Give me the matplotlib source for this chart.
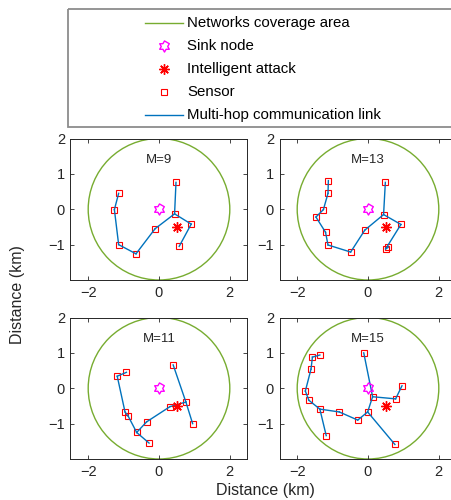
import numpy as np
import matplotlib
matplotlib.use("Agg")
import matplotlib.pyplot as plt
from matplotlib.path import Path
from matplotlib.patches import Circle, Rectangle
from matplotlib.lines import Line2D

plt.rcParams["font.family"] = ["Liberation Sans", "DejaVu Sans"]

# network geometry (km)
coverage_radius = 2.0
sink_xy = (0.0, 0.0)
attack_xy = (0.5, -0.5)

# M = 9 sensors
m9_x = [0.48, 0.44, 0.91, 0.57, -0.11, -0.65, -1.14, -1.26, -1.14]
m9_y = [0.76, -0.13, -0.42, -1.05, -0.55, -1.26, -1.00, -0.01, 0.45]
m9_links = [(0, 1), (1, 2), (2, 3), (1, 4), (4, 5), (5, 6), (6, 7), (7, 8)]

# M = 13 sensors
m13_x = [-1.12, -1.13, -1.26, -1.47, -1.20, -1.13, -0.49, -0.09, 0.44, 0.49, 0.93, 0.57, 0.50]
m13_y = [0.81, 0.45, -0.01, -0.22, -0.65, -1.01, -1.21, -0.59, -0.15, 0.76, -0.43, -1.08, -1.12]
m13_links = [(0, 1), (1, 2), (2, 3), (3, 4), (4, 5), (5, 6), (6, 7), (7, 8),
             (8, 9), (8, 10), (10, 12), (12, 11)]

# M = 11 sensors
m11_x = [0.40, 0.76, 0.95, 0.31, -0.35, -0.63, -0.28, -0.87, -0.96, -1.18, -0.92]
m11_y = [0.66, -0.39, -1.00, -0.52, -0.95, -1.25, -1.55, -0.79, -0.67, 0.34, 0.45]
m11_links = [(0, 1), (1, 2), (1, 3), (3, 4), (4, 5), (5, 6), (5, 7), (7, 8),
             (8, 9), (9, 10)]

# M = 15 sensors
m15_x = [-0.12, 0.13, 0.78, 0.96, -0.01, -0.29, -0.81, -1.36, -1.18, -1.67,
         -1.77, -1.61, -1.57, -1.36, 0.76]
m15_y = [1.00, -0.24, -0.30, 0.07, -0.67, -0.90, -0.67, -0.59, -1.34, -0.34,
         -0.08, 0.54, 0.88, 0.94, -1.59]
m15_links = [(0, 1), (1, 2), (2, 3), (1, 4), (4, 14), (4, 5), (5, 6), (6, 7),
             (7, 8), (7, 9), (9, 10), (10, 11), (11, 12), (12, 13)]

panels = [
    ("M=9", m9_x, m9_y, m9_links),
    ("M=13", m13_x, m13_y, m13_links),
    ("M=11", m11_x, m11_y, m11_links),
    ("M=15", m15_x, m15_y, m15_links),
]

green = "#77AC30"
blue = "#0072BD"
magenta = "#FF00FF"
red = "#FF0000"
ink = "#262626"

# six-pointed outline star for the sink
ang = np.deg2rad(90 + 30 * np.arange(12))
rad = np.where(np.arange(12) % 2 == 0, 1.0, 1 / np.sqrt(3))
hexagram = Path(np.column_stack([rad * np.cos(ang), rad * np.sin(ang)]), closed=True)

sink_style = dict(marker=hexagram, ms=8, mfc="none", mec=magenta, mew=1.0, ls="none")
attack_style = dict(marker=(8, 2, 0), ms=7.5, mec=red, mew=1.0, ls="none")
sensor_style = dict(marker="s", ms=5.0, mfc="none", mec=red, mew=0.8, ls="none")
link_style = dict(color=blue, lw=1.0)

W, H = 452, 500
fig = plt.figure(figsize=(W / 100, H / 100), dpi=100)


def px_axes(left, top, right, bottom):
    return fig.add_axes([left / W, 1 - bottom / H, (right - left) / W, (bottom - top) / H])


cols = [(70.5, 247.5), (279.5, 456.5)]
rows = [(138.5, 280.0), (317.5, 459.0)]

for k, (label, xs, ys, links) in enumerate(panels):
    r, c = divmod(k, 2)
    ax = px_axes(cols[c][0], rows[r][0], cols[c][1], rows[r][1])
    ax.add_patch(Circle(sink_xy, coverage_radius, fill=False, ec=green, lw=1.0, zorder=1))
    ax.plot(xs, ys, zorder=2, **sensor_style)
    for a, b in links:
        ax.plot([xs[a], xs[b]], [ys[a], ys[b]], zorder=3, **link_style)
    ax.plot(*sink_xy, zorder=4, **sink_style)
    ax.plot(*attack_xy, zorder=4, **attack_style)
    ax.text(0, 1.4, label, ha="center", va="center", fontsize=9.5, color=ink)
    ax.set_xlim(-2.5, 2.5)
    ax.set_ylim(-2, 2)
    ax.set_xticks([-2, 0, 2])
    ax.set_yticks([-1, 0, 1, 2])
    ax.tick_params(direction="in", top=True, right=True, length=3, width=0.6,
                   labelsize=10.5, colors=ink, pad=4)
    for s in ax.spines.values():
        s.set_linewidth(0.7)
        s.set_color(ink)

fig.text(265 / W, 1 - 490 / H, "Distance (km)", ha="center", va="center",
         fontsize=11.5, color=ink)
fig.text(18 / W, 1 - 295 / H, "Distance (km)", ha="center", va="center",
         rotation=90, fontsize=11.5, color=ink)

# legend box, drawn in figure pixel coordinates
leg = px_axes(68, 9, 458, 127)
leg.set_xlim(68, 458)
leg.set_ylim(127, 9)
leg.axis("off")
leg.add_patch(Rectangle((68, 9), 390, 118, fill=False, ec="#8c8c8c", lw=1.3,
                        clip_on=False))
entries = [
    ("Networks coverage area", dict(color=green, lw=1.0)),
    ("Sink node", sink_style),
    ("Intelligent attack", attack_style),
    ("Sensor", sensor_style),
    ("Multi-hop communication link", link_style),
]
row_y = [22.5, 45.5, 68.5, 91.5, 114.5]
for (name, style), y in zip(entries, row_y):
    if "marker" in style:
        leg.add_line(Line2D([164], [y], **style))
    else:
        leg.add_line(Line2D([145, 183], [y, y], **style))
    leg.text(187, y, name, ha="left", va="center", fontsize=10.8, color="black")

fig.savefig("out.png", dpi=100)
